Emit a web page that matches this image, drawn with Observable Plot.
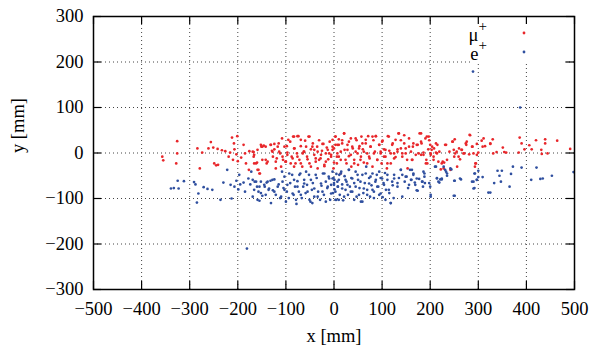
<!DOCTYPE html>
<html>
<head>
<meta charset="utf-8">
<script src="https://cdn.jsdelivr.net/npm/d3@7"></script>
<script src="https://cdn.jsdelivr.net/npm/@observablehq/plot@0.6"></script>
<style>
  html, body { margin: 0; padding: 0; background: white; }
  svg { display: block; }
</style>
</head>
<body>
<div id="chart"></div>
<script>
const xTicks = [-500, -400, -300, -200, -100, 0, 100, 200, 300, 400, 500];
const yTicks = [-300, -200, -100, 0, 100, 200, 300];
const xLabel = "x [mm]";
const yLabel = "y [mm]";
const seriesNames = ["μ", "e"];
const seriesColors = ["#e8262a", "#2f4f9f"];

const muPoints = [
[-357,-8],[-355,-16],[-326,26],[-326,-1],[-328,-23],[-284,10],[-274,1],[-279,-34],[-261,10],[-256,24],[-251,12],[-242,9],[-233,6],[-226,4],[-249,-23],[-245,-27],[-241,-26],[-212,34],[-201,37],[-208,21],[-207,8],[-216,1],[-219,-8],[-203,-3],[-210,-15],[-200,-18],[-193,-10],[-188,18],[-185,-1],[-183,-23],[-176,4],[-167,2],[-177,-37],[-167,-8],[-166,-23],[-160,-21],[-157,-37],[-154,-45],[-151,14],[-146,16],[-149,-15],[-140,-23],[-132,18],[-129,5],[-127,-8],[-124,8],[-121,-19],[-119,-12],[-115,21],[-112,-1],[-108,32],[-106,-15],[-101,-19],[-98,15],[-97,1],[-91,25],[-88,-8],[-85,36],[-82,10],[-80,-23],[-77,-1],[-74,37],[-72,-15],[-69,15],[-66,-30],[-63,3],[-60,27],[-56,-8],[-53,36],[-51,-23],[-48,8],[-44,21],[-41,-4],[-38,-19],[-35,14],[-31,28],[-28,-12],[-25,5],[-22,20],[-20,-26],[-17,-1],[-15,12],[-12,-14],[-9,25],[-6,-4],[-3,7],[0,-21],[3,18],[6,-8],[10,30],
[-169,3],[-166,-4],[-162,-23],[-159,7],[-152,18],[-149,14],[-142,-15],[-138,-19],[-142,14],[-131,18],[-128,3],[-124,20],[-117,14],[-114,3],[-103,14],[-100,-19],[-97,-4],[-95,29],[-90,-23],[-86,-12],[-83,36],[-76,37],[-69,29],[-65,-1],[-62,3],[-58,14],[-55,-14],[-51,36],[-48,-30],[-45,14],[-41,7],[-38,-12],[-34,3],[-31,-15],[-27,-4],[-24,20],[-20,-29],[-17,-19],[-13,7],[-10,-1],[-6,-8],[-69,-23],[-76,-8],[-83,10],[-107,-8],[-121,-34],[-110,-30],[-83,-30],[-34,-34],[-159,-37],[-155,-45],
[-3,14],[3,36],[7,-1],[10,18],[14,-15],[17,28],[21,43],[22,7],[26,-23],[28,18],[31,-7],[35,32],[36,-30],[39,10],[42,-15],[45,3],[47,28],[50,-26],[53,15],[56,-8],[57,36],[60,8],[62,-21],[66,21],[69,-1],[71,37],[74,-12],[76,14],[80,-30],[82,28],[85,3],[87,37],[90,-15],[94,18],[97,-1],[99,-23],[101,27],[104,8],[107,-8],[110,-34],[112,37],[115,5],[118,-23],[122,21],[125,-1],[128,-9],[132,8],[134,43],[139,28],[142,-1],[146,39],[149,10],[153,-34],[156,14],[160,3],[163,-15],[165,21],[170,-4],[174,18],[181,43],[181,-4],[182,21],[186,1],[191,-23],[193,36],[196,8],[198,28],[201,-4],[204,14],[207,-15],[212,1],[215,18],[222,-36],[226,-19],[229,-21],[233,18],[240,3],[246,25],[250,-8],[251,30],[256,-30],[260,10],[262,-14],[265,7],[271,-1],[274,21],[276,25],[281,-3],[283,39],[288,14],[293,-30],[295,-23],[297,20],[300,1],[309,14],[311,32],[325,20],[330,30],[331,-1],[338,2],[351,12],[354,2],[358,1],[384,1],[386,34],[390,21],[396,8],[406,17],[411,8],[420,28],[431,7],[432,-2],[439,30],[439,21],[444,-1],[464,27],[491,9],
[-3,29],[0,10],[3,36],[7,18],[10,-8],[14,3],[17,21],[21,43],[24,-15],[28,7],[31,25],[35,-4],[38,14],[42,-23],[45,32],[49,-1],[52,10],[55,-15],[59,21],[62,3],[66,29],[69,-23],[73,-8],[76,14],[80,36],[83,-1],[87,37],[90,-15],[94,18],[97,3],[100,25],[104,-8],[107,7],[111,-23],[114,36],[118,-1],[121,18],[125,-12],[128,29],[132,3],[135,43],[139,10],[142,-8],[146,21],[149,-1],[152,-15],[156,32],[6,-23],[-1,-34],[14,-45],
[164,14],[172,18],[178,43],[176,-1],[181,25],[186,-4],[190,32],[192,-15],[194,-23],[197,36],[200,18],[201,-1],[203,7],[207,-8],[208,10],[212,21],[214,-1],[217,-19],[219,3],[224,-23],[228,-34],[231,18],[235,-15],[242,-37],[247,25],[249,7],[252,-1],[255,3],[259,-8],[266,7],[269,-1],[275,18],[282,40],[287,14],[290,-1],[294,-23],[297,-4],[307,27],[314,15],[325,21],[162,-15]
];

const ePoints = [
[-325,-61],[-312,-62],[-339,-78],[-333,-77],[-323,-78],[-291,-64],[-288,-69],[-282,-89],[-285,-109],[-271,-75],[-263,-79],[-253,-81],[-230,-65],[-236,-103],[-222,-37],[-215,-70],[-213,-100],[-207,-74],[-203,-61],[-197,-48],[-199,-80],[-195,-69],[-188,-65],[-185,-85],[-181,-210],[-178,-56],[-174,-69],[-172,-41],[-169,-96],[-165,-63],[-160,-74],[-157,-85],[-155,-105],[-152,-63],[-149,-94],[-144,-74],[-140,-65],[-136,-81],[-132,-61],[-127,-82],[-124,-58],[-121,-92],[-115,-69],[-112,-99],[-108,-41],[-105,-77],[-103,-52],[-98,-85],[-94,-99],[-91,-66],[-87,-48],[-84,-92],[-81,-74],[-78,-112],[-76,-62],[-73,-85],[-70,-45],[-67,-99],[-64,-74],[-62,-59],[-59,-88],[-56,-70],[-52,-48],[-49,-107],[-46,-81],[-44,-66],[-41,-96],[-36,-55],[-33,-85],[-29,-103],[-26,-72],[-23,-45],[-21,-92],[-17,-63],[-14,-77],[-11,-52],[-8,-103],[-6,-70],[-2,-88],[1,-59],[5,-103],[8,-74],[11,-48],
[-169,-59],[-162,-63],[-166,-81],[-155,-74],[-152,-88],[-159,-103],[-145,-70],[-138,-63],[-142,-92],[-135,-78],[-128,-59],[-124,-85],[-117,-74],[-110,-96],[-107,-63],[-103,-81],[-97,-70],[-93,-45],[-86,-89],[-83,-59],[-79,-103],[-76,-74],[-72,-48],[-69,-92],[-62,-67],[-58,-41],[-55,-85],[-51,-103],[-48,-59],[-41,-78],[-38,-48],[-34,-96],[-27,-67],[-24,-85],[-20,-45],[-17,-107],[-13,-74],[-10,-56],[-6,-89],[-100,-107],[-131,-110],[-45,-110],
[-3,-41],[-1,-55],[0,-66],[1,-80],[3,-103],[5,-46],[8,-74],[10,-59],[12,-92],[15,-41],[17,-69],[19,-104],[22,-51],[24,-81],[26,-63],[29,-92],[31,-37],[33,-74],[36,-55],[38,-85],[42,-66],[45,-41],[47,-96],[50,-59],[53,-77],[56,-107],[59,-48],[61,-88],[64,-66],[67,-30],[69,-81],[73,-55],[75,-96],[78,-71],[80,-45],[83,-85],[86,-63],[89,-48],[92,-74],[94,-92],[97,-55],[101,-97],[103,-66],[106,-44],[108,-81],[111,-59],[115,-88],[118,-110],[122,-71],[125,-48],[124,-99],[132,-66],[135,-55],[139,-37],[142,-48],[147,-63],[151,-52],[154,-77],[158,-37],[161,-59],[165,-45],[168,-65],[172,-82],[177,-57],[184,-63],[188,-45],[189,-66],[198,-66],[201,-92],[212,-30],[214,-55],[219,-65],[224,-58],[228,-30],[233,-41],[235,-50],[244,-36],[250,-61],[251,-94],[264,-58],[290,-63],[292,-77],[293,-45],[297,-59],[300,-39],[309,-53],[325,-87],[333,-66],[340,-39],[344,-50],[347,-63],[349,-39],[365,-74],[368,-46],[372,-30],[390,-32],[410,-59],[421,-32],[429,-57],[434,-56],[453,-50],[498,-42],[289,179],[387,100],
[-3,-56],[0,-70],[3,-85],[7,-63],[10,-103],[14,-45],[17,-78],[21,-96],[24,-59],[28,-70],[31,-37],[35,-85],[38,-56],[42,-103],[45,-74],[49,-48],[52,-92],[55,-63],[59,-107],[62,-78],[66,-45],[69,-92],[73,-67],[76,-52],[80,-81],[83,-99],[87,-59],[90,-74],[94,-41],[97,-89],[100,-56],[104,-70],[107,-103],[111,-48],[114,-81],[118,-110],[121,-63],[125,-56],[132,-74],[139,-37],[142,-96],[149,-52],[156,-70],
[162,-37],[165,-48],[160,-59],[172,-56],[169,-70],[183,-63],[186,-41],[188,-52],[185,-74],[174,-83],[200,-74],[201,-96],[210,-30],[214,-56],[217,-63],[221,-58],[224,-56],[231,-37],[235,-45],[242,-34],[249,-94],[251,-61],[262,-56],[287,-63],[290,-78],[292,-45],[297,-59],[300,-53],[321,-87]
];

const fmt = d => d < 0 ? "\u2212" + Math.abs(d) : String(d);
const font = "Liberation Serif";
const gridStyle = {stroke: "#444", strokeOpacity: 1, strokeWidth: 1, strokeDasharray: "1,3"};
const innerH = 346 - 16 - 57;
const innerW = 591 - 93 - 17;
const tickLen = 8;

// legend: white box + samples, rendered relative to the frame
function legend(index, scales, values, dim) {
  const g = d3.create("svg:g").attr("font-size", 18.5);
  const right = dim.width - dim.marginRight;
  const top = dim.marginTop;
  g.append("rect").attr("x", right - 103).attr("y", top + 1)
    .attr("width", 94).attr("height", 47).attr("fill", "white");
  seriesNames.forEach((name, i) => {
    const cy = top + 17 + i * 19;
    const t = g.append("text").attr("x", right - 87).attr("y", cy + 8)
      .attr("text-anchor", "end").attr("fill", "black");
    t.append("tspan").text(name);
    t.append("tspan").attr("dy", -10).attr("font-size", 15).text("+");
    g.append("circle").attr("cx", right - 50).attr("cy", cy)
      .attr("r", 1.4).attr("fill", seriesColors[i]);
  });
  return g.node();
}

const chart = Plot.plot({
  width: 591,
  height: 346,
  marginLeft: 93,
  marginRight: 17,
  marginTop: 16,
  marginBottom: 57,
  style: {fontFamily: "'Liberation Serif', serif", fontSize: "18.5px", background: "white", color: "black"},
  x: {domain: [-500, 500], axis: null},
  y: {domain: [-300, 300], axis: null},
  marks: [
    Plot.gridX(xTicks.slice(1, -1), {...gridStyle}),
    Plot.gridY(yTicks.slice(1, -1), {...gridStyle}),
    Plot.dot(muPoints, {x: d => d[0], y: d => d[1], r: 1.35, fill: seriesColors[0], stroke: "none"}),
    Plot.dot(ePoints, {x: d => d[0], y: d => d[1], r: 1.35, fill: seriesColors[1], stroke: "none"}),
    legend,
    Plot.tickX(xTicks, {x: d => d, insetTop: innerH - tickLen, stroke: "black", strokeWidth: 1.2}),
    Plot.tickX(xTicks, {x: d => d, insetBottom: innerH - tickLen, stroke: "black", strokeWidth: 1.2}),
    Plot.tickY(yTicks, {y: d => d, insetRight: innerW - tickLen, stroke: "black", strokeWidth: 1.2}),
    Plot.tickY(yTicks, {y: d => d, insetLeft: innerW - tickLen, stroke: "black", strokeWidth: 1.2}),
    Plot.frame({stroke: "black", strokeWidth: 1.5}),
    Plot.axisX(xTicks, {anchor: "bottom", tickSize: 0, tickPadding: 12, tickFormat: fmt, fontSize: 18.5, label: null, fill: "black"}),
    Plot.axisY(yTicks, {anchor: "left", tickSize: 0, tickPadding: 10, tickFormat: fmt, fontSize: 18.5, label: null, fill: "black"}),
    Plot.text([xLabel], {text: d => d, frameAnchor: "bottom", dy: 52, fontSize: 18.5, fill: "black"}),
    Plot.text([yLabel], {text: d => d, frameAnchor: "left", dx: -75, rotate: -90, fontSize: 18.5, fill: "black"})
  ]
});
d3.select(chart).selectAll("text, tspan").attr("font-family", font);
document.getElementById("chart").appendChild(chart);
</script>
</body>
</html>
